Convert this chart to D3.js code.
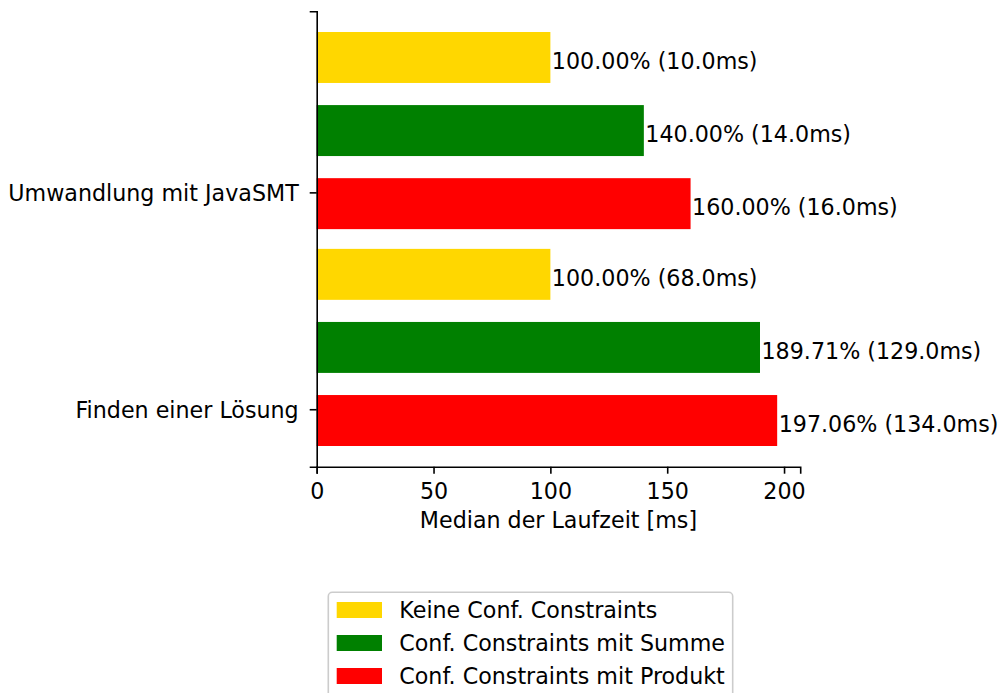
<!DOCTYPE html>
<html><head><meta charset="utf-8">
<script src="https://cdn.jsdelivr.net/npm/d3@7"></script>
<style>
html,body{margin:0;padding:0;background:#fff;}
text{font-family:"DejaVu Sans",sans-serif;fill:#000;}
</style></head>
<body>
<svg id="c" width="1000" height="693"></svg>
<script>
const categories = ["Umwandlung mit JavaSMT", "Finden einer Lösung"];
const seriesNames = ["Keine Conf. Constraints", "Conf. Constraints mit Summe", "Conf. Constraints mit Produkt"];
const seriesColors = ["#FFD700", "#008000", "#FF0000"];
const keinePct = [100.00, 100.00];
const summePct = [140.00, 189.71];
const produktPct = [160.00, 197.06];
const keineMs = [10.0, 68.0];
const summeMs = [14.0, 129.0];
const produktMs = [16.0, 134.0];
const xTicks = [0, 50, 100, 150, 200];
const xLabel = "Median der Laufzeit [ms]";

const pctSeries = [keinePct, summePct, produktPct];
const msSeries = [keineMs, summeMs, produktMs];
const offsets = [-0.622, -0.285, 0.052];
const barH = 0.235;

const bars = [];
categories.forEach((c, i) => {
  pctSeries.forEach((s, j) => {
    bars.push({cat: i, ser: j, pos: i + offsets[j], v: s[i], ms: msSeries[j][i]});
  });
});

const mLeft = 316.7, mRight = 800.2, mTop = 11.3, mBottom = 466.7;
const fs = 22.2;
const maxV = d3.max(bars, d => d.v);
const x = d3.scaleLinear().domain([0, maxV * 1.05]).range([mLeft, mRight]);
const yMin = d3.min(bars, d => d.pos) - barH / 2;
const yMax = d3.max(bars, d => d.pos) + barH / 2;
const pad = (yMax - yMin) * 0.05;
const y = d3.scaleLinear().domain([yMin - pad, yMax + pad]).range([mTop, mBottom]);

const svg = d3.select("#c");

svg.selectAll("rect.bar").data(bars).enter().append("rect")
  .attr("class", "bar")
  .attr("x", x(0))
  .attr("y", d => y(d.pos - barH / 2))
  .attr("width", d => x(d.v) - x(0))
  .attr("height", d => y(d.pos + barH / 2) - y(d.pos - barH / 2))
  .attr("fill", d => seriesColors[d.ser]);

svg.selectAll("text.vlab").data(bars).enter().append("text")
  .attr("class", "vlab")
  .attr("x", d => x(d.v) + 1.5)
  .attr("y", d => y(d.pos))
  .attr("dy", "0.53em")
  .style("font-size", fs + "px")
  .text(d => d.v.toFixed(2) + "% (" + d.ms.toFixed(1) + "ms)");

// x axis
const xAxis = d3.axisBottom(x).tickValues(xTicks).tickFormat(d3.format("d")).tickSizeOuter(0).tickSize(7).tickPadding(10);
const gx = svg.append("g").attr("transform", `translate(0,${mBottom})`).call(xAxis);
gx.select(".domain").attr("stroke", "#000").attr("stroke-width", 1.6);
gx.selectAll(".tick line").attr("stroke", "#000").attr("stroke-width", 1.6);
gx.selectAll(".tick text").style("font-size", fs + "px").style("font-family", "DejaVu Sans").attr("fill", "#000");

// y axis
const yAxis = d3.axisLeft(y).tickValues(categories.map((c, i) => i)).tickFormat(i => categories[i]).tickSizeOuter(0).tickSize(7).tickPadding(11);
const gy = svg.append("g").attr("transform", `translate(${mLeft},0)`).call(yAxis);
gy.select(".domain").attr("stroke", "#000").attr("stroke-width", 1.6);
gy.selectAll(".tick line").attr("stroke", "#000").attr("stroke-width", 1.6);
gy.selectAll(".tick text").style("font-size", fs + "px").style("font-family", "DejaVu Sans").attr("fill", "#000").attr("dy", "0.38em");

svg.append("text")
  .attr("x", (mLeft + mRight) / 2)
  .attr("y", 527.7)
  .attr("text-anchor", "middle")
  .style("font-size", fs + "px")
  .text(xLabel);

// legend
const lg = svg.append("g");
lg.append("rect")
  .attr("x", 328.3).attr("y", 592.3)
  .attr("width", 404.4).attr("height", 110)
  .attr("rx", 4).attr("ry", 4)
  .attr("fill", "#fff").attr("stroke", "#cccccc").attr("stroke-width", 1.6);
const rows = lg.selectAll("g.row").data(seriesNames).enter().append("g")
  .attr("class", "row")
  .attr("transform", (d, i) => `translate(0,${610 + i * 33})`);
rows.append("rect")
  .attr("x", 336.7).attr("y", -8)
  .attr("width", 45.3).attr("height", 16)
  .attr("fill", (d, i) => seriesColors[i]);
rows.append("text")
  .attr("x", 399.3).attr("y", 0).attr("dy", "0.35em")
  .style("font-size", fs + "px")
  .text(d => d);
</script>
</body></html>
